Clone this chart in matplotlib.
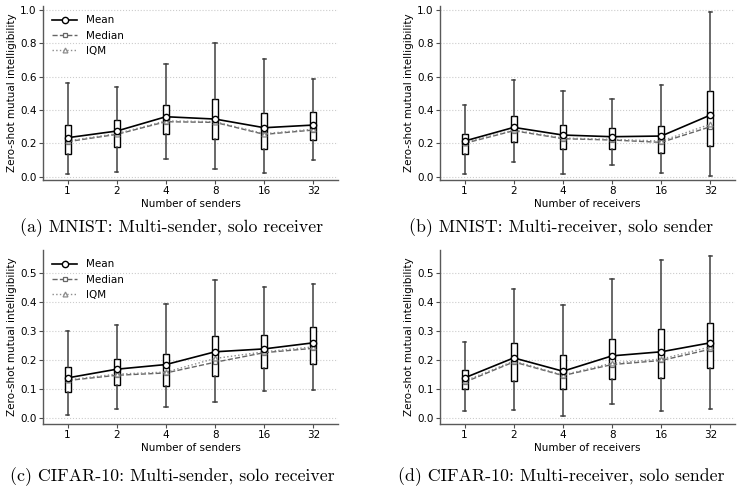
import matplotlib
matplotlib.use('Agg')
import matplotlib.pyplot as plt

x_labels = ['1', '2', '4', '8', '16', '32']

# (a) MNIST, multi-sender
a_mean = [0.234, 0.274, 0.360, 0.346, 0.294, 0.310]
a_median = [0.210, 0.254, 0.330, 0.326, 0.254, 0.280]
a_iqm = [0.215, 0.258, 0.335, 0.330, 0.258, 0.285]
a_q1 = [0.136, 0.180, 0.256, 0.224, 0.164, 0.220]
a_q3 = [0.310, 0.340, 0.430, 0.464, 0.384, 0.388]
a_lo = [0.016, 0.028, 0.108, 0.044, 0.024, 0.100]
a_hi = [0.560, 0.540, 0.676, 0.800, 0.704, 0.588]

# (b) MNIST, multi-receiver
b_mean = [0.214, 0.296, 0.250, 0.240, 0.244, 0.370]
b_median = [0.200, 0.276, 0.228, 0.220, 0.206, 0.300]
b_iqm = [0.205, 0.280, 0.232, 0.224, 0.214, 0.315]
b_q1 = [0.136, 0.210, 0.168, 0.164, 0.140, 0.186]
b_q3 = [0.254, 0.366, 0.310, 0.294, 0.306, 0.514]
b_lo = [0.016, 0.090, 0.016, 0.070, 0.024, 0.006]
b_hi = [0.430, 0.580, 0.516, 0.468, 0.550, 0.986]

# (c) CIFAR-10, multi-sender
c_mean = [0.138, 0.168, 0.184, 0.228, 0.238, 0.259]
c_median = [0.129, 0.147, 0.155, 0.192, 0.225, 0.240]
c_iqm = [0.131, 0.151, 0.158, 0.205, 0.228, 0.245]
c_q1 = [0.090, 0.113, 0.109, 0.145, 0.171, 0.187]
c_q3 = [0.175, 0.202, 0.222, 0.282, 0.286, 0.315]
c_lo = [0.011, 0.032, 0.037, 0.055, 0.092, 0.097]
c_hi = [0.299, 0.320, 0.393, 0.476, 0.453, 0.463]

# (d) CIFAR-10, multi-receiver
d_mean = [0.138, 0.207, 0.161, 0.214, 0.228, 0.259]
d_median = [0.123, 0.193, 0.146, 0.184, 0.198, 0.237]
d_iqm = [0.127, 0.196, 0.148, 0.189, 0.203, 0.245]
d_q1 = [0.098, 0.128, 0.099, 0.133, 0.139, 0.172]
d_q3 = [0.164, 0.259, 0.218, 0.271, 0.306, 0.326]
d_lo = [0.025, 0.028, 0.007, 0.047, 0.024, 0.031]
d_hi = [0.261, 0.443, 0.389, 0.478, 0.545, 0.557]

W, H = 745, 494
fig = plt.figure(figsize=(W / 100, H / 100), dpi=100)


def draw_panel(rect, mean, median, iqm, q1, q3, lo, hi, xlabel, ylim, yticks, legend):
    ax = fig.add_axes(rect)
    pos = list(range(len(x_labels)))
    stats = []
    for i in pos:
        stats.append({'med': median[i], 'q1': q1[i], 'q3': q3[i],
                      'whislo': lo[i], 'whishi': hi[i]})
    ax.bxp(stats, positions=pos, widths=0.12, capwidths=0.07, showfliers=False,
           patch_artist=True,
           boxprops=dict(facecolor='white', edgecolor='black', linewidth=1.0),
           medianprops=dict(linewidth=0),
           whiskerprops=dict(color='0.25', linewidth=1.1),
           capprops=dict(color='0.25', linewidth=1.1))
    ax.plot(pos, mean, color='black', linestyle='-', linewidth=1.2, marker='o',
            markersize=4.5, markerfacecolor='white', markeredgewidth=1.0,
            label='Mean', zorder=5)
    ax.plot(pos, median, color='0.4', linestyle='--', linewidth=1.0, marker='s',
            markersize=3.5, markerfacecolor='white', markeredgewidth=0.9,
            label='Median', zorder=4)
    ax.plot(pos, iqm, color='0.55', linestyle=':', linewidth=1.0, marker='^',
            markersize=3.5, markerfacecolor='white', markeredgewidth=0.9,
            label='IQM', zorder=4)
    ax.set_xlim(-0.5, 5.5)
    ax.set_ylim(*ylim)
    ax.set_xticks(pos)
    ax.set_xticklabels(x_labels)
    ax.set_yticks(yticks)
    ax.set_yticklabels(['%.1f' % t for t in yticks])
    ax.tick_params(labelsize=7.5, length=3, width=0.8, color='0.3', pad=1.5)
    ax.grid(axis='y', linestyle=':', color='0.8', linewidth=0.8)
    ax.set_axisbelow(True)
    for s in ['top', 'right']:
        ax.spines[s].set_visible(False)
    for s in ['left', 'bottom']:
        ax.spines[s].set_color('0.35')
        ax.spines[s].set_linewidth(1.0)
    ax.set_xlabel(xlabel, fontsize=7.5, labelpad=2)
    ax.set_ylabel('Zero-shot mutual intelligibility', fontsize=7.5, labelpad=2)
    if legend:
        ax.legend(loc='upper left', frameon=False, fontsize=7.5, handlelength=2.4,
                  borderaxespad=0.5, labelspacing=0.5)
    return ax


top_ticks = [0.0, 0.2, 0.4, 0.6, 0.8, 1.0]
bot_ticks = [0.0, 0.1, 0.2, 0.3, 0.4, 0.5]
aw = 295 / W
ah = 174 / H

draw_panel([43 / W, 1 - 180 / H, aw, ah], a_mean, a_median, a_iqm, a_q1, a_q3, a_lo, a_hi,
           'Number of senders', (-0.02, 1.025), top_ticks, True)
draw_panel([440 / W, 1 - 180 / H, aw, ah], b_mean, b_median, b_iqm, b_q1, b_q3, b_lo, b_hi,
           'Number of receivers', (-0.02, 1.025), top_ticks, False)
draw_panel([43 / W, 1 - 424 / H, aw, ah], c_mean, c_median, c_iqm, c_q1, c_q3, c_lo, c_hi,
           'Number of senders', (-0.021, 0.579), bot_ticks, True)
draw_panel([440 / W, 1 - 424 / H, aw, ah], d_mean, d_median, d_iqm, d_q1, d_q3, d_lo, d_hi,
           'Number of receivers', (-0.021, 0.579), bot_ticks, False)

cap_kw = dict(fontsize=12.8, fontfamily='cmr10', ha='center', va='center')
fig.text(172 / W, 1 - 228 / H, '(a) MNIST: Multi-sender, solo receiver', **cap_kw)
fig.text(561 / W, 1 - 228 / H, '(b) MNIST: Multi-receiver, solo sender', **cap_kw)
fig.text(172 / W, 1 - 477 / H, '(c) CIFAR-10: Multi-sender, solo receiver', **cap_kw)
fig.text(561 / W, 1 - 477 / H, '(d) CIFAR-10: Multi-receiver, solo sender', **cap_kw)

fig.savefig('out.png', dpi=100)
